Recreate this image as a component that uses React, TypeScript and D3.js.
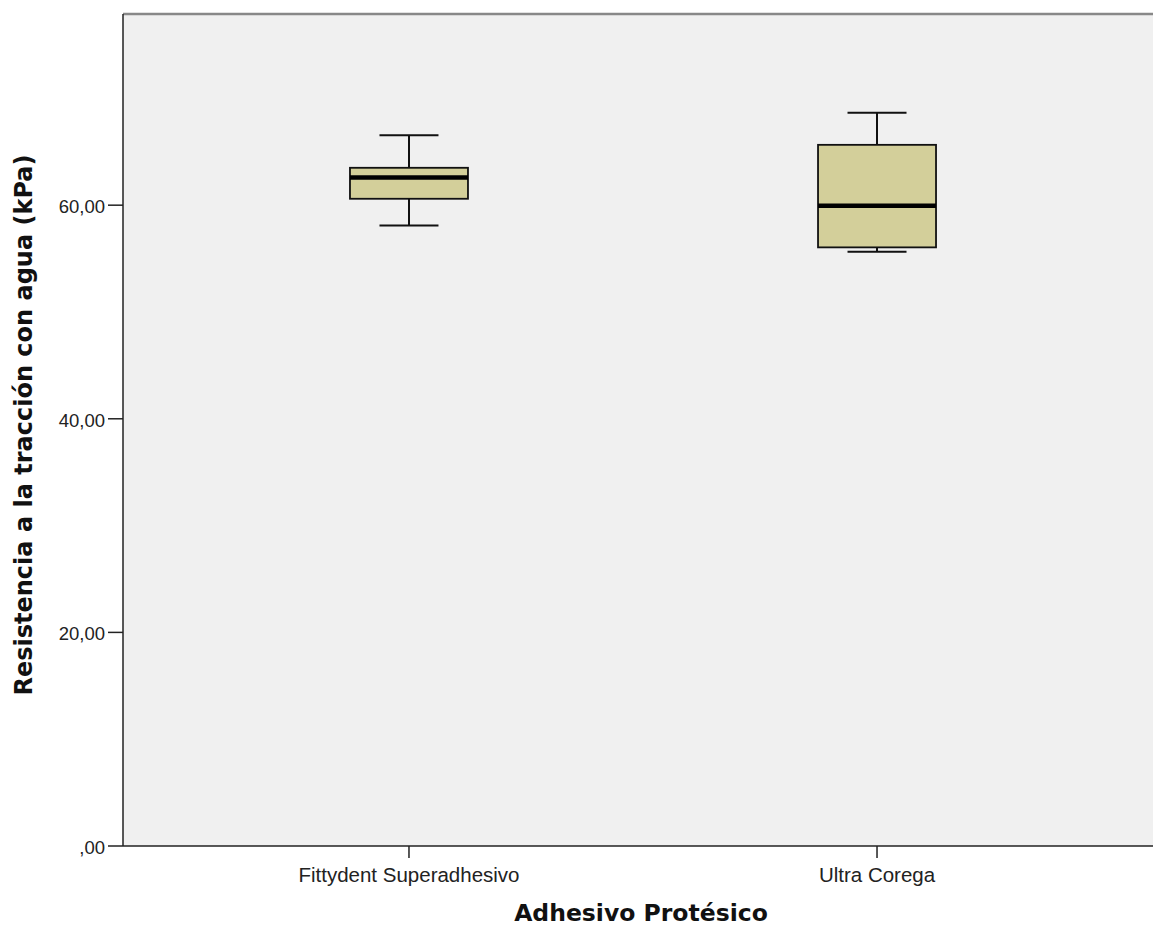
import React from "react";
import * as d3 from "d3";

const categories = ["Fittydent Superadhesivo", "Ultra Corega"];
const whiskerLow = [58.1, 55.65];
const q1 = [60.6, 56.05];
const median = [62.6, 59.95];
const q3 = [63.5, 65.65];
const whiskerHigh = [66.55, 68.65];
const yTicks = [0, 20, 40, 60];

const W = 1153;
const H = 928;
const left = 123;
const right = 1163;
const top = 14;
const bottom = 846;

const fmt = (v: number) => (v === 0 ? ",00" : v.toFixed(2).replace(".", ","));

export default function App() {
  const x = d3.scalePoint<string>().domain(categories).range([left, right]).padding(0.611);
  const y = d3.scaleLinear().domain([0, 77.9]).range([bottom, top]);
  const boxW = 118;
  const capW = 59;

  return (
    <svg width={W} height={H} style={{ position: "absolute", left: 0, top: 0 }}>
      <rect x={left} y={top} width={W - left} height={bottom - top} fill="#f0f0f0" />
      <line x1={left} x2={W} y1={top} y2={top} stroke="#888" strokeWidth={2.5} />
      <line x1={left} x2={left} y1={top} y2={bottom} stroke="#222" strokeWidth={1.5} />
      <line x1={left} x2={W} y1={bottom} y2={bottom} stroke="#222" strokeWidth={1.5} />

      {yTicks.map((t) => (
        <g key={t}>
          <line x1={left - 15} x2={left} y1={y(t)} y2={y(t)} stroke="#222" strokeWidth={1.5} />
          <text
            x={left - 18}
            y={y(t)}
            dy="0.42em"
            textAnchor="end"
            fontFamily="Liberation Sans, Arial, sans-serif"
            fontSize={18.5}
            fill="#222"
          >
            {fmt(t)}
          </text>
        </g>
      ))}

      {categories.map((c) => (
        <g key={c}>
          <line x1={x(c)} x2={x(c)} y1={bottom} y2={bottom + 12} stroke="#222" strokeWidth={1.5} />
          <text
            x={x(c)}
            y={bottom + 36}
            textAnchor="middle"
            fontFamily="Liberation Sans, Arial, sans-serif"
            fontSize={20.5}
            fill="#222"
          >
            {c}
          </text>
        </g>
      ))}

      {categories.map((c, i) => {
        const cx = x(c) as number;
        return (
          <g key={"box" + c}>
            <line x1={cx} x2={cx} y1={y(whiskerHigh[i])} y2={y(q3[i])} stroke="#111" strokeWidth={2} />
            <line x1={cx} x2={cx} y1={y(q1[i])} y2={y(whiskerLow[i])} stroke="#111" strokeWidth={2} />
            <line x1={cx - capW / 2} x2={cx + capW / 2} y1={y(whiskerHigh[i])} y2={y(whiskerHigh[i])} stroke="#111" strokeWidth={2} />
            <line x1={cx - capW / 2} x2={cx + capW / 2} y1={y(whiskerLow[i])} y2={y(whiskerLow[i])} stroke="#111" strokeWidth={2} />
            <rect
              x={cx - boxW / 2}
              y={y(q3[i])}
              width={boxW}
              height={y(q1[i]) - y(q3[i])}
              fill="#d3cf9a"
              stroke="#111"
              strokeWidth={1.8}
            />
            <line x1={cx - boxW / 2} x2={cx + boxW / 2} y1={y(median[i])} y2={y(median[i])} stroke="#000" strokeWidth={4.5} />
          </g>
        );
      })}

      <text
        transform={`translate(32, ${(152 + 698) / 2}) rotate(-90)`}
        textAnchor="middle"
        fontFamily="DejaVu Sans, sans-serif"
        fontWeight="bold"
        fontSize={24}
        fill="#111"
      >
        Resistencia a la tracción con agua (kPa)
      </text>
      <text
        x={641}
        y={921}
        textAnchor="middle"
        fontFamily="DejaVu Sans, sans-serif"
        fontWeight="bold"
        fontSize={23.5}
        fill="#111"
      >
        Adhesivo Protésico
      </text>
    </svg>
  );
}
